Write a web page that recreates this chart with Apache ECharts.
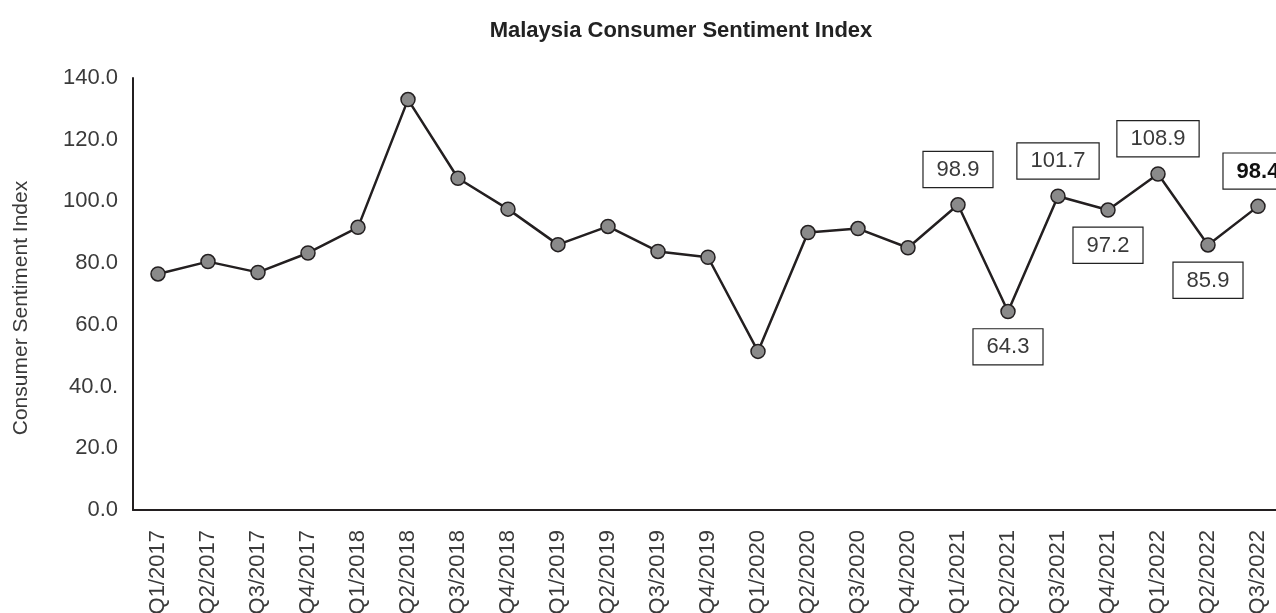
<!DOCTYPE html>
<html>
<head>
<meta charset="utf-8">
<script src="https://cdn.jsdelivr.net/npm/echarts@6/dist/echarts.min.js"></script>
<style>
html,body{margin:0;padding:0;background:#fff;}
#chart{width:1276px;height:613px;}
</style>
</head>
<body>
<div id="chart"></div>
<script>
var categories = ["Q1/2017","Q2/2017","Q3/2017","Q4/2017","Q1/2018","Q2/2018","Q3/2018","Q4/2018","Q1/2019","Q2/2019","Q3/2019","Q4/2019","Q1/2020","Q2/2020","Q3/2020","Q4/2020","Q1/2021","Q2/2021","Q3/2021","Q4/2021","Q1/2022","Q2/2022","Q3/2022"];
var sentiment = [76.5,80.5,77.0,83.3,91.6,133.0,107.5,97.5,86.0,91.9,83.8,81.9,51.4,89.9,91.2,85.0,98.9,64.3,101.7,97.2,108.9,85.9,98.4];
var labelPositions = [null,null,null,null,null,null,null,null,null,null,null,null,null,null,null,null,"top","bottom","top","bottom","top","bottom","top"];
var boldLabel = [false,false,false,false,false,false,false,false,false,false,false,false,false,false,false,false,false,false,false,false,false,false,true];
var yTickLabels = {"0":"0.0","20":"20.0","40":"40.0.","60":"60.0","80":"80.0","100":"100.0","120":"120.0","140":"140.0"};
var titleText = "Malaysia Consumer Sentiment Index";
var yAxisName = "Consumer Sentiment Index";

var font = "'Liberation Sans', Arial, Helvetica, sans-serif";
var seriesData = sentiment.map(function (v, i) {
  var item = { value: v };
  if (labelPositions[i]) {
    item.label = {
      show: true,
      position: labelPositions[i],
      distance: 10,
      formatter: function (p) { return p.value.toFixed(1); },
      fontFamily: font,
      fontSize: 22,
      lineHeight: 22,
      fontWeight: boldLabel[i] ? 'bold' : 'normal',
      color: boldLabel[i] ? '#111' : '#3a3a3a',
      backgroundColor: '#fff',
      borderColor: '#222',
      borderWidth: 1.2,
      padding: [7, 13, 6, 13]
    };
  }
  return item;
});

var chart = echarts.init(document.getElementById('chart'), null, { renderer: 'canvas' });
chart.setOption({
  animation: false,
  backgroundColor: '#fff',
  title: {
    text: titleText,
    left: 676,
    textAlign: 'center',
    top: 15,
    textStyle: { fontFamily: font, fontSize: 22, fontWeight: 'bold', color: '#222' }
  },
  graphic: [{
    type: 'text',
    x: 21,
    y: 308,
    rotation: Math.PI / 2,
    style: {
      text: yAxisName,
      fontFamily: font,
      fontSize: 21,
      fill: '#3a3a3a',
      align: 'center',
      verticalAlign: 'middle'
    }
  }],
  grid: { left: 133, width: 1150, top: 78, bottom: 103, containLabel: false, outerBoundsMode: 'none' },
  xAxis: {
    type: 'category',
    data: categories,
    boundaryGap: true,
    axisLine: { lineStyle: { color: '#231f20', width: 2 } },
    axisTick: { show: false },
    axisLabel: {
      rotate: 90,
      margin: 20,
      interval: 0,
      fontFamily: font,
      fontSize: 22,
      color: '#3a3a3a'
    },
    splitLine: { show: false }
  },
  yAxis: {
    type: 'value',
    min: 0,
    max: 140,
    interval: 20,
    axisLine: { show: true, lineStyle: { color: '#231f20', width: 2 } },
    axisTick: { show: false },
    axisLabel: {
      margin: 15,
      fontFamily: font,
      fontSize: 22,
      color: '#3a3a3a',
      formatter: function (v) { return yTickLabels[String(v)] || v.toFixed(1); }
    },
    splitLine: { show: false }
  },
  series: [{
    type: 'line',
    data: seriesData,
    symbol: 'circle',
    symbolSize: 14,
    lineStyle: { color: '#231f20', width: 2.5 },
    itemStyle: { color: '#8a8a8a', borderColor: '#231f20', borderWidth: 1.5 },
    label: { show: false },
    z: 3
  }]
});
</script>
</body>
</html>
